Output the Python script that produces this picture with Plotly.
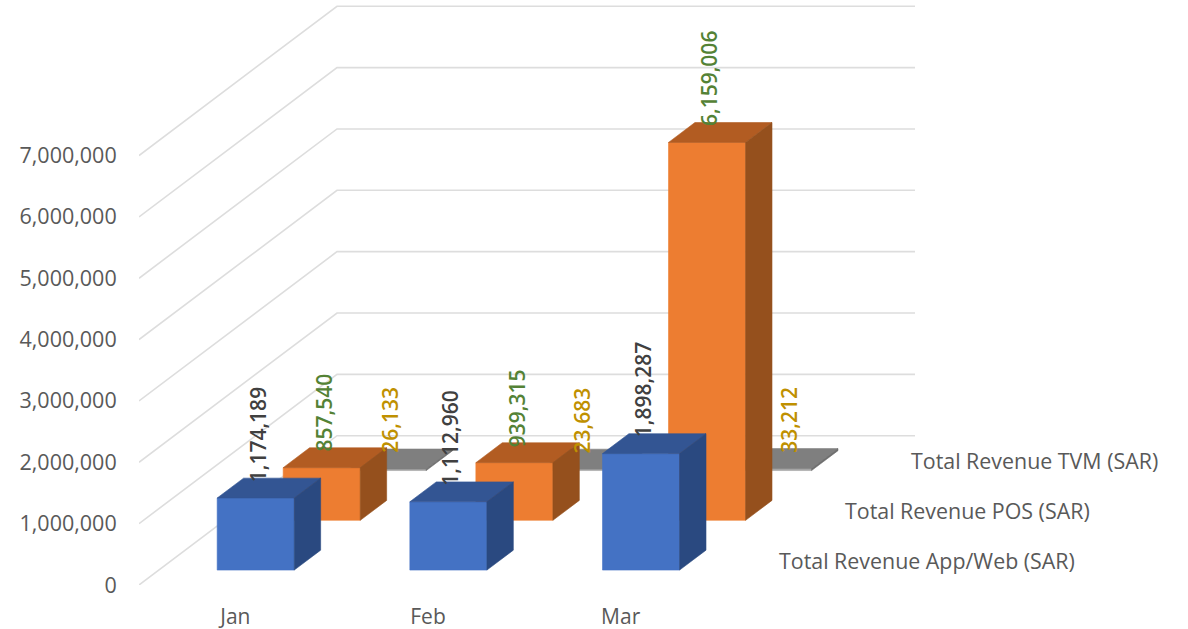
import plotly.graph_objects as go

months = ["Jan", "Feb", "Mar"]
series_names = ["Total Revenue App/Web (SAR)", "Total Revenue POS (SAR)", "Total Revenue TVM (SAR)"]
app_web = [1174189, 1112960, 1898287]
pos = [857540, 939315, 6159006]
tvm = [26133, 23683, 33212]
value_ticks = [0, 1000000, 2000000, 3000000, 4000000, 5000000, 6000000, 7000000]

FONT = "Open Sans"
TEXT = "#595959"
GRID = "#DDDDDD"
styles = [
    {"front": "#4472C4", "top": "#335593", "side": "#2A4980", "label": "#404040"},
    {"front": "#ED7D31", "top": "#B25C22", "side": "#95501D", "label": "#548235"},
    {"front": "#A5A5A5", "top": "#7F7F7F", "side": "#6E6E6E", "label": "#BF9000"},
]
# the reference moves the March TVM label clear of the tall bar
label_xshift = {(2, 2): 14}

# Oblique projection of the 3-D chart box onto the 2-D axes
PX_CAT = 192.67
PX_M = 61.35
DX = 198 / PX_CAT          # category units per full depth
DY = 149.3 / PX_M * 1e6    # value units per full depth
GAP = 0.303
BAR_W = 0.4
ROW = 1 / 3
BAR_D = ROW * 0.4
ROW_GAP = ROW * 0.3


def proj(c, v, d):
    return c + d * DX, v + d * DY


def poly(points, color):
    xs, ys = zip(*[proj(*p) for p in points])
    return go.Scatter(x=list(xs) + [xs[0]], y=list(ys) + [ys[0]], mode="lines", fill="toself",
                      fillcolor=color, line=dict(width=0.6, color=color), hoverinfo="skip", showlegend=False)


fig = go.Figure()

for v in value_ticks:
    xs, ys = zip(proj(0, v, 0), proj(0, v, 1), proj(3, v, 1))
    fig.add_trace(go.Scatter(x=list(xs), y=list(ys), mode="lines", line=dict(color=GRID, width=1.6),
                             hoverinfo="skip", showlegend=False))

all_series = [app_web, pos, tvm]
annotations = []
for s in (2, 1, 0):
    st = styles[s]
    d0 = s * ROW + ROW_GAP
    d1 = d0 + BAR_D
    for i, v in enumerate(all_series[s]):
        c0 = i + GAP
        c1 = c0 + BAR_W
        fig.add_trace(poly([(c0, 0, d0), (c1, 0, d0), (c1, v, d0), (c0, v, d0)], st["front"]))
        fig.add_trace(poly([(c0, v, d0), (c1, v, d0), (c1, v, d1), (c0, v, d1)], st["top"]))
        fig.add_trace(poly([(c1, 0, d0), (c1, 0, d1), (c1, v, d1), (c1, v, d0)], st["side"]))
        lx, ly = proj(c0 + BAR_W / 2, v, d1)
        lx -= BAR_D * DX
        annotations.append(dict(x=lx, y=ly, xref="x", yref="y", text=f"{v:,}", textangle=-90,
                                showarrow=False, xanchor="center", yanchor="bottom", borderpad=0,
                                xshift=2 + label_xshift.get((s, i), 0), yshift=-5,
                                font=dict(family=FONT, size=21, weight=600, color=st["label"])))

for s, name in enumerate(series_names):
    lx, ly = proj(3, 0, (s + 0.5) * ROW)
    annotations.append(dict(x=lx, y=ly, xref="x", yref="y", text=name, showarrow=False,
                            xanchor="left", yanchor="middle", xshift=27,
                            font=dict(family=FONT, size=21.4, color=TEXT)))

fig.update_layout(
    width=1188, height=629,
    margin=dict(l=139, r=0, t=0, b=44),
    paper_bgcolor="white", plot_bgcolor="white",
    showlegend=False,
    annotations=annotations,
    font=dict(family=FONT, color=TEXT),
    xaxis=dict(range=[0, 1049 / PX_CAT], tickmode="array", tickvals=[0.5, 1.5, 2.5], ticktext=months,
               showgrid=False, zeroline=False, showline=False, ticks="outside", ticklen=13, automargin=False,
               tickcolor="rgba(0,0,0,0)", tickfont=dict(family=FONT, size=21, color=TEXT)),
    yaxis=dict(range=[0, 585 / PX_M * 1e6], tickmode="array", tickvals=value_ticks,
               ticktext=[f"{v:,}" for v in value_ticks], showgrid=False, zeroline=False, showline=False,
               ticks="outside", ticklen=17, tickcolor="rgba(0,0,0,0)", ticklabelshift=0, automargin=False,
               tickfont=dict(family=FONT, size=21.5, color=TEXT)),
)

fig.write_html("out.html", config={"displayModeBar": False},
               post_script="document.body.style.margin='0';document.documentElement.style.overflow='hidden';")
